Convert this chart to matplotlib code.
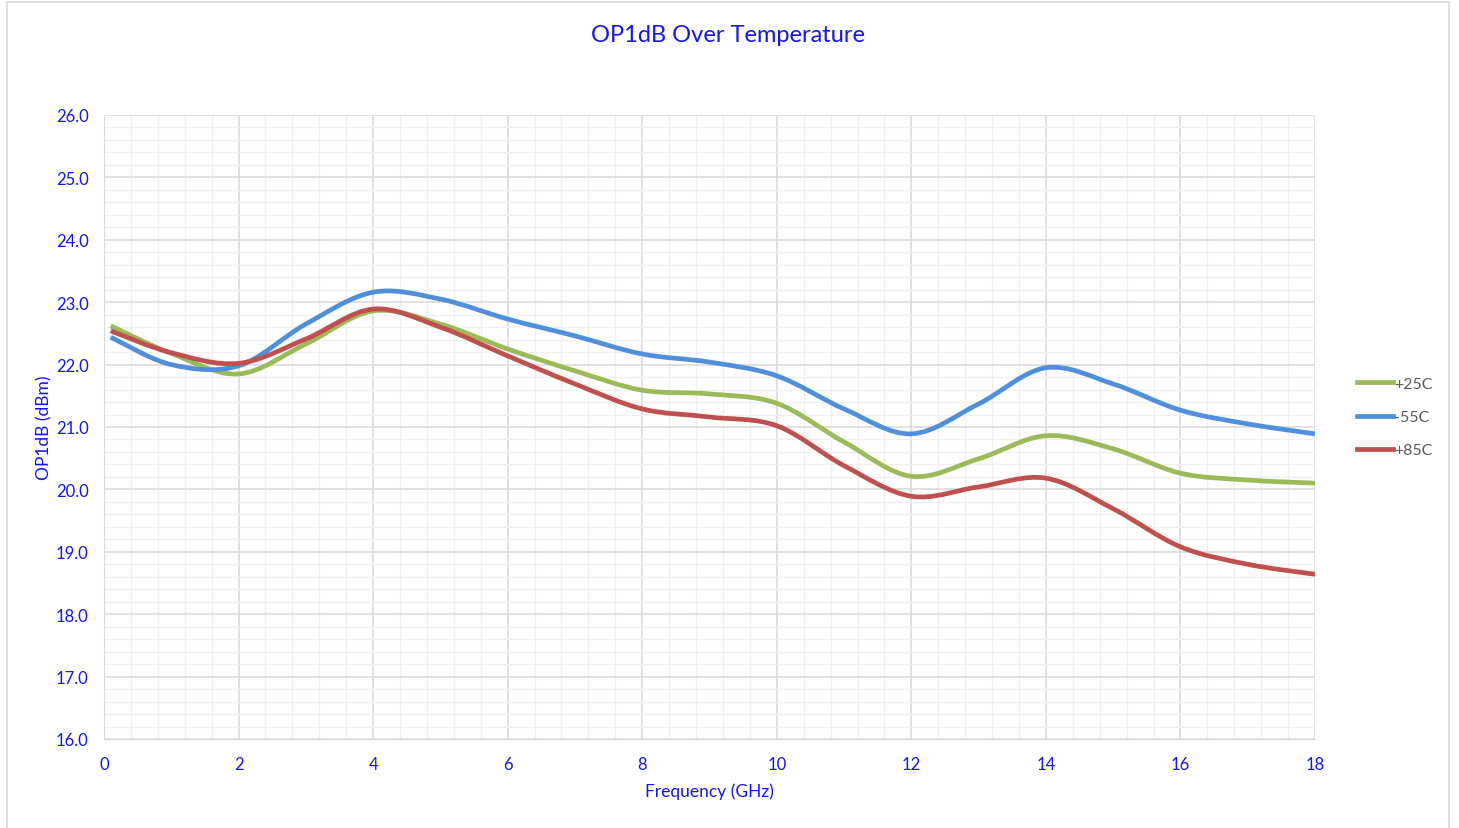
import numpy as np
import matplotlib
matplotlib.use("Agg")
import matplotlib.pyplot as plt
import matplotlib.ticker as mticker
from matplotlib.path import Path
from matplotlib.patches import PathPatch, Rectangle
from matplotlib.lines import Line2D

OUTPUT_PATH = "out.png"

FREQ = [0.1, 1, 2, 3, 4, 5, 6, 7, 8, 9, 10, 11, 12, 13, 14, 15, 16, 17, 18]
P25 = [22.62, 22.18, 21.85, 22.33, 22.86, 22.65, 22.25, 21.90, 21.59, 21.53,
       21.38, 20.76, 20.21, 20.49, 20.86, 20.65, 20.26, 20.15, 20.10]
M55 = [22.44, 22.00, 21.98, 22.65, 23.16, 23.05, 22.73, 22.46, 22.17, 22.04,
       21.82, 21.29, 20.89, 21.37, 21.95, 21.69, 21.27, 21.05, 20.89]
P85 = [22.54, 22.19, 22.02, 22.41, 22.89, 22.60, 22.14, 21.69, 21.29, 21.16,
       21.02, 20.38, 19.89, 20.04, 20.18, 19.69, 19.08, 18.80, 18.64]

SERIES = [("+25C", P25, "#9BBB59"), ("-55C", M55, "#4F8FDB"), ("+85C", P85, "#C0504D")]
BLUE = "#1515F5"


def smooth_path(x, y):
    # Excel-style smoothed line: cubic Bezier segments (Catmull-Rom control points)
    pts = np.column_stack([x, y])
    n = len(pts)
    verts = [pts[0]]
    codes = [Path.MOVETO]
    for i in range(n - 1):
        p0 = pts[i - 1] if i > 0 else pts[i]
        p1, p2 = pts[i], pts[i + 1]
        p3 = pts[i + 2] if i + 2 < n else pts[i + 1]
        c1 = p1 + (p2 - p0) / 6.0
        c2 = p2 - (p3 - p1) / 6.0
        verts += [c1, c2, p2]
        codes += [Path.CURVE4] * 3
    return Path(verts, codes)


def main():
    plt.rcParams["font.family"] = ["Lato", "DejaVu Sans"]
    fig = plt.figure(figsize=(14.59, 8.29), dpi=100)
    ax = fig.add_axes([104 / 1459, 1 - 740 / 829, (1315 - 104) / 1459, (740 - 116) / 829])

    # chart area border
    fig.patches.append(Rectangle((7 / 1459, -0.01), (1449 - 7) / 1459, 1 - 3 / 829 + 0.01,
                                 transform=fig.transFigure, fill=False,
                                 edgecolor="#D9D9D9", linewidth=1.2))

    for label, vals, color in SERIES:
        ax.add_patch(PathPatch(smooth_path(FREQ, vals), facecolor="none",
                               edgecolor=color, linewidth=3.4, capstyle="butt",
                               joinstyle="round", zorder=3))

    ax.set_xlim(0, 18)
    ax.set_ylim(16, 26)
    ax.xaxis.set_major_locator(mticker.MultipleLocator(2))
    ax.xaxis.set_minor_locator(mticker.MultipleLocator(0.4))
    ax.yaxis.set_major_locator(mticker.MultipleLocator(1))
    ax.yaxis.set_minor_locator(mticker.MultipleLocator(0.2))
    ax.yaxis.set_major_formatter(mticker.FormatStrFormatter("%.1f"))
    ax.grid(which="major", color="#D9D9D9", linewidth=1.1, zorder=1)
    ax.grid(which="minor", color="#F0F0F0", linewidth=1.0, zorder=0)
    ax.set_axisbelow(True)
    for side in ["top", "right"]:
        ax.spines[side].set_visible(False)
    ax.spines["left"].set_color("#D9D9D9")
    ax.spines["bottom"].set_color("#D9D9D9")
    ax.tick_params(which="both", length=0, labelsize=12, colors=BLUE)
    ax.tick_params(axis="y", pad=11)
    ax.tick_params(axis="x", pad=12)

    ax.set_xlabel("Frequency (GHz)", fontsize=12.5, color=BLUE, labelpad=7.5)
    ax.set_ylabel("OP1dB (dBm)", fontsize=12.5, color=BLUE, labelpad=2.5)
    fig.text(728 / 1459, 1 - 36 / 829, "OP1dB Over Temperature", fontsize=17,
             color=BLUE, ha="center", va="center")

    handles = [Line2D([], [], color=c, linewidth=3.4) for _, _, c in SERIES]
    fig.legend(handles, [s[0] for s in SERIES], loc="center left",
               bbox_to_anchor=(1343 / 1459, 1 - 418 / 829), frameon=False,
               fontsize=11.5, labelcolor="#595959", handlelength=2.2,
               handletextpad=0.1, labelspacing=1.2)

    fig.savefig(OUTPUT_PATH, dpi=100, facecolor="white")


if __name__ == "__main__":
    main()
